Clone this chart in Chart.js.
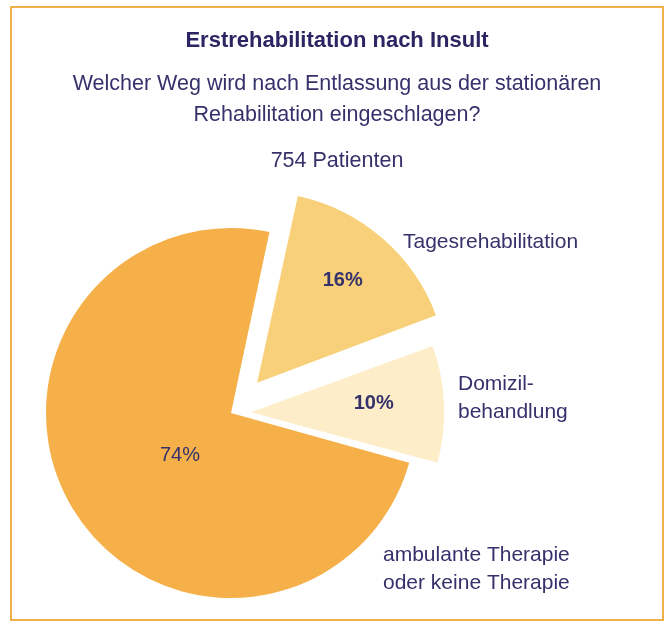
<!DOCTYPE html>
<html>
<head>
<meta charset="utf-8">
<script src="https://cdn.jsdelivr.net/npm/chart.js@4.4.0/dist/chart.umd.min.js"></script>
<style>
  html, body { margin: 0; padding: 0; background: #fff; }
  body {
    width: 667px; height: 624px; position: relative; overflow: hidden;
    font-family: "Liberation Sans", Arial, sans-serif; color: #35316b;
  }
  #frame {
    position: absolute; left: 10px; top: 6px; width: 650px; height: 611px;
    border: 2px solid #efb04a; box-sizing: content-box;
  }
  #pie { position: absolute; left: 0; top: 0; }
  .txt { position: absolute; left: 10px; width: 654px; text-align: center; }
  #title { top: 27px; font-size: 22px; line-height: 26px; font-weight: bold; color: #2b2663; }
  #sub { top: 68px; font-size: 21.5px; line-height: 31px; }
  #count { top: 147px; font-size: 21.5px; line-height: 26px; }
</style>
</head>
<body>
<div id="frame"></div>
<canvas id="pie" width="667" height="624"></canvas>
<div class="txt" id="title">Erstrehabilitation nach Insult</div>
<div class="txt" id="sub">Welcher Weg wird nach Entlassung aus der stationären<br>Rehabilitation eingeschlagen?</div>
<div class="txt" id="count">754 Patienten</div>

<script>
// ===== DATA =====
const categories = ['Tagesrehabilitation', 'Domizilbehandlung', 'ambulante Therapie oder keine Therapie'];
const shares = [16, 10, 74];
const pctLabels = ['16%', '10%', '74%'];
const nameLines = [['Tagesrehabilitation'], ['Domizil-', 'behandlung'], ['ambulante Therapie', 'oder keine Therapie']];

// ===== LOOK =====
const sliceColors = ['#f9d07a', '#fdeec9', '#f6b04a'];
const sliceOffsets = [160, 80, 0];           // arc translates by offset/4
const textColor = '#35316b';
// percent label: fraction of radius + angle (deg, clockwise from top) from slice tip
const pctPlace = [{ r: 0.72, a: 40 }, { r: 0.665, a: 86 }, { r: 0.36, a: 230 }];
const pctWeight = ['bold', 'bold', 'normal'];
// left / centre-y of the category text
const nameSpots = [[403, 242], [458, 384], [383, 555]];
const lineGap = 28;

const sliceLabels = {
  id: 'sliceLabels',
  afterDatasetsDraw(chart) {
    const { ctx } = chart;
    const meta = chart.getDatasetMeta(0);
    ctx.save();
    ctx.fillStyle = textColor;
    ctx.textBaseline = 'middle';
    meta.data.forEach((arc, i) => {
      const p = arc.getProps(['x', 'y', 'startAngle', 'endAngle', 'outerRadius'], true);
      const mid = (p.startAngle + p.endAngle) / 2;
      const shift = (arc.options.offset || 0) / 4;
      const tx = p.x + Math.cos(mid) * shift;
      const ty = p.y + Math.sin(mid) * shift;
      const a = pctPlace[i].a * Math.PI / 180;
      const d = pctPlace[i].r * p.outerRadius;
      ctx.textAlign = 'center';
      ctx.font = pctWeight[i] + ' 20px "Liberation Sans", Arial, sans-serif';
      ctx.fillText(pctLabels[i], tx + Math.sin(a) * d, ty - Math.cos(a) * d);

      ctx.textAlign = 'left';
      ctx.font = '21px "Liberation Sans", Arial, sans-serif';
      nameLines[i].forEach((ln, k) => {
        ctx.fillText(ln, nameSpots[i][0], nameSpots[i][1] + k * lineGap);
      });
    });
    ctx.restore();
  }
};

new Chart(document.getElementById('pie'), {
  type: 'pie',
  data: {
    labels: categories,
    datasets: [{
      data: shares,
      backgroundColor: sliceColors,
      borderWidth: 0,
      offset: sliceOffsets,
      hoverOffset: 0,
      rotation: 12,
      radius: 185,
      clip: false
    }]
  },
  options: {
    responsive: false,
    animation: false,
    events: [],
    layout: { padding: { left: 0, right: 205, top: 202, bottom: 0 } },
    plugins: {
      legend: { display: false },
      tooltip: { enabled: false }
    }
  },
  plugins: [sliceLabels]
});
</script>
</body>
</html>
